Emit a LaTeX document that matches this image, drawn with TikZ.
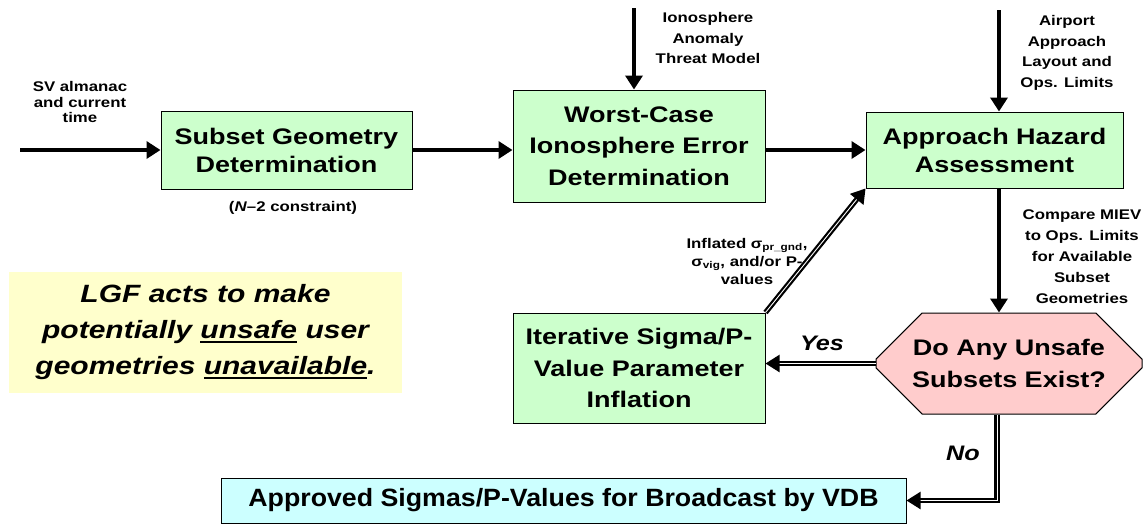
\documentclass[tikz,border=0pt]{standalone}
\usepackage{fontspec}
\setmainfont{Liberation Sans}[FakeStretch=1.2]
\newfontfamily\vdbfont{Liberation Sans}[FakeStretch=1.07]
\usetikzlibrary{arrows.meta,shapes.misc,positioning}
\definecolor{boxgreen}{HTML}{CCFFCC}
\definecolor{boxpink}{HTML}{FFCCCC}
\definecolor{boxcyan}{HTML}{CCFFFF}
\definecolor{noteyellow}{HTML}{FFFFCC}
\newcommand{\thickul}[1]{\leavevmode\vtop{\hbox{#1}\kern1.5pt\hrule height 2.6pt}}
\tikzset{
proc_box/.style={rectangle, draw, line width=1pt, fill=boxgreen, align=center, inner sep=0pt, font=\bfseries\fontsize{22.5}{28}\selectfont},
decision_box/.style={chamfered rectangle, chamfered rectangle xsep=28pt, chamfered rectangle ysep=22pt, draw, line width=1pt, fill=boxpink, align=center, inner sep=0pt, minimum width=266pt, minimum height=101pt, font=\bfseries\fontsize{22.5}{31.7}\selectfont},
result_box/.style={rectangle, draw, line width=1pt, fill=boxcyan, inner sep=0pt, minimum width=685pt, minimum height=45pt, font=\vdbfont\bfseries\fontsize{25}{30}\selectfont},
note_box/.style={rectangle, fill=noteyellow, align=center, inner sep=0pt, minimum width=393pt, minimum height=121pt, font=\bfseries\itshape\fontsize{25}{36}\selectfont},
side_label/.style={align=center, inner sep=0pt, font=\bfseries\fontsize{14}{20.5}\selectfont},
branch_label/.style={inner sep=0pt, font=\bfseries\itshape\fontsize{21}{24}\selectfont},
flow_arrow/.style={line width=4pt, -{Triangle[length=14pt,width=17pt]}},
dbl_arrow/.style={line width=2.2pt, double=white, double distance=0.9pt, -{Triangle[length=14pt,width=17pt]}}
}

\begin{document}
\begin{tikzpicture}[x=1pt,y=-1pt]
    \useasboundingbox (0,0) rectangle (1147,525);
    % process boxes
    \node[proc_box, minimum width=251pt, minimum height=78pt] (subset) at (286.5,150) {Subset Geometry\\Determination};
    \node[proc_box, minimum width=252pt, minimum height=112pt, font=\bfseries\fontsize{22.5}{31.7}\selectfont] (worst) at (639,146) {Worst-Case\\Ionosphere Error\\Determination};
    \node[proc_box, minimum width=257pt, minimum height=76pt] (approach) at (994.5,150) {Approach Hazard\\Assessment};
    \node[proc_box, minimum width=252pt, minimum height=110pt, font=\bfseries\fontsize{22.5}{31.7}\selectfont] (iterative) at (639,368) {Iterative Sigma/P-\\Value Parameter\\Inflation};
    \node[decision_box] (unsafe) at (1009,363.5) {Do Any Unsafe\\Subsets Exist?};
    \node[result_box] (vdb) at (563.5,500.5) {Approved Sigmas/P-Values for Broadcast by VDB};
    \node[note_box] (note) at (205.5,332.5) {LGF acts to make\\potentially \thickul{unsafe} user\\geometries \thickul{unavailable}.};

    % labels
    \node[side_label, font=\bfseries\fontsize{14}{15.3}\selectfont] (sv_label) at (80,102) {SV almanac\\and current\\time};
    \node[side_label] (n2_label) at (293,208) {(\textit{N}--2 constraint)};
    \node[side_label] (iono_label) at (708,38) {Ionosphere\\Anomaly\\Threat Model};
    \node[side_label] (airport_label) at (1067,53) {Airport\\Approach\\Layout and\\Ops. Limits};
    \node[side_label, font=\bfseries\fontsize{14}{21}\selectfont] (compare_label) at (1082,257) {Compare MIEV\\to Ops. Limits\\for Available\\Subset\\Geometries};
    \node[side_label, font=\bfseries\fontsize{14}{18}\selectfont] (inflated_label) at (747,261) {Inflated σ\textsubscript{pr\_gnd},\\σ\textsubscript{vig}, and/or P-\\values};
    \node[branch_label] (yes_label) at (822,343) {Yes};
    \node[branch_label] (no_label) at (963,453) {No};

    % inputs
    \coordinate (sv_in) at (20,150);
    \coordinate (iono_in) at (634,8);
    \coordinate (airport_in) at (999,10);

    % connectors
    \draw[flow_arrow] (sv_in) -- (subset.west);
    \draw[flow_arrow] (subset.east) -- (subset.east -| worst.west);
    \draw[flow_arrow] (iono_in) -- (iono_in |- worst.north);
    \draw[flow_arrow] (approach.west -| worst.east) -- (approach.west);
    \draw[flow_arrow] (airport_in) -- (airport_in |- approach.north);
    \draw[flow_arrow] (airport_in |- approach.south) -- (airport_in |- unsafe.north);
    \draw[dbl_arrow] (unsafe.west) -- (unsafe.west -| iterative.east);
    \draw[dbl_arrow] (iterative.north east) -- (approach.south west);
    \draw[dbl_arrow] ([xshift=-12pt]unsafe.south) |- (vdb.east);
\end{tikzpicture}
\end{document}
